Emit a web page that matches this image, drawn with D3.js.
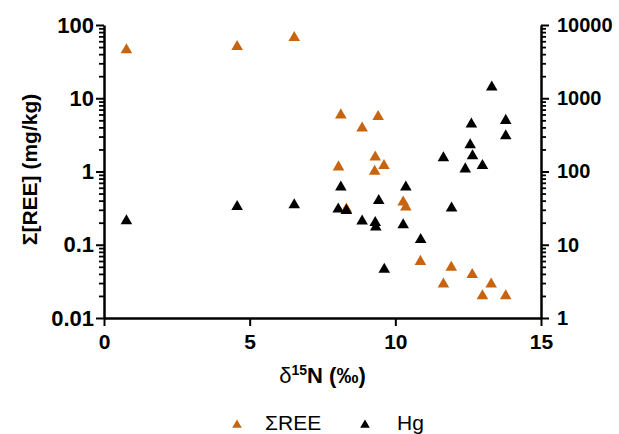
<!DOCTYPE html>
<html><head><meta charset="utf-8">
<script src="https://cdn.jsdelivr.net/npm/d3@7"></script>
<style>body{margin:0;background:#fff}svg{display:block}</style>
</head><body>
<script>
const reeX = [0.77,4.57,6.53,8.13,9.41,8.86,9.31,9.61,9.29,8.05,8.32,10.27,10.36,10.86,11.92,11.65,12.64,13.29,12.99,13.79];
const reeY = [45.6,50.6,67,5.9,5.6,3.9,1.57,1.2,1.0,1.15,0.305,0.38,0.326,0.059,0.049,0.029,0.039,0.029,0.020,0.020];
const hgX = [0.77,4.57,6.53,13.31,13.79,13.79,12.61,12.57,12.65,12.99,12.40,11.65,11.93,10.36,9.43,8.13,8.04,8.32,8.86,9.31,9.33,10.27,10.87,9.62];
const hgY = [21.2,33.2,35,1413,496,306,442,231,163,120,108,153,31.6,61,40,61,30.5,29.3,21,20,17.4,18.7,11.7,4.6];
const xTicks = [0,5,10,15];
const leftTicks = [0.01,0.1,1,10,100];
const leftLabels = ["0.01","0.1","1","10","100"];
const rightTicks = [1,10,100,1000,10000];
const rightLabels = ["1","10","100","1000","10000"];
const seriesNames = ["ΣREE","Hg"];
const colors = ["#c8640f","#000000"];

const W=619,H=434, L=104, R=541, T=25, B=318;
const svg=d3.select("body").append("svg").attr("width",W).attr("height",H);
const x=d3.scaleLinear().domain([0,15]).range([L,R]);
const yL=d3.scaleLog().domain([0.01,100]).range([B,T]);
const yR=d3.scaleLog().domain([1,10000]).range([B,T]);

function minors(dom){const out=[];for(let e=Math.log10(dom[0]);e<Math.log10(dom[1]);e++){for(let k=2;k<=9;k++)out.push(k*Math.pow(10,e));}return out;}
const font="'Liberation Sans', Arial, sans-serif";

function styleAxis(g,fs){g.select(".domain").attr("stroke-width",2.5);g.selectAll(".tick line").attr("stroke-width",2);g.selectAll("text").attr("font-family",font).attr("font-weight","bold").attr("font-size",fs).attr("fill","#000");}

svg.append("g").attr("transform",`translate(${L},0)`).call(d3.axisLeft(yL).tickValues(minors(yL.domain())).tickSize(5).tickFormat("")).call(g=>{g.select(".domain").remove();g.selectAll(".tick line").attr("stroke-width",1.8);});
svg.append("g").attr("transform",`translate(${R},0)`).call(d3.axisRight(yR).tickValues(minors(yR.domain())).tickSize(5).tickFormat("")).call(g=>{g.select(".domain").remove();g.selectAll(".tick line").attr("stroke-width",1.8);});

svg.append("g").attr("transform",`translate(${L},0)`).call(d3.axisLeft(yL).tickValues(leftTicks).tickSize(8).tickSizeOuter(0).tickPadding(2).tickFormat((d,i)=>leftLabels[i])).call(g=>styleAxis(g,22));
svg.append("g").attr("transform",`translate(${R},0)`).call(d3.axisRight(yR).tickValues(rightTicks).tickSize(8).tickSizeOuter(0).tickPadding(8).tickFormat((d,i)=>rightLabels[i])).call(g=>styleAxis(g,20));
svg.append("g").attr("transform",`translate(0,${B})`).call(d3.axisBottom(x).tickValues(xTicks).tickSize(8).tickSizeOuter(0).tickPadding(8)).call(g=>styleAxis(g,21));

svg.append("text").attr("transform",`translate(37,${(T+B)/2-2}) rotate(-90)`).attr("text-anchor","middle").attr("font-family",font).attr("font-weight","bold").attr("font-size",21).text("Σ[REE] (mg/kg)");
const xt=svg.append("text").attr("x",(L+R)/2).attr("y",383).attr("text-anchor","middle").attr("font-family",font).attr("font-weight","bold").attr("font-size",22);
xt.append("tspan").attr("font-weight","normal").text("δ");
xt.append("tspan").attr("font-size",14).attr("dy",-8).text("15");
xt.append("tspan").attr("dy",8).text("N (‰)");

const tri=d3.symbol().type(d3.symbolTriangle).size(58);
svg.append("g").selectAll("path").data(reeX.map((v,i)=>[v,reeY[i]])).join("path").attr("transform",d=>`translate(${x(d[0])},${yL(d[1])})`).attr("d",tri).attr("fill",colors[0]);
svg.append("g").selectAll("path").data(hgX.map((v,i)=>[v,hgY[i]])).join("path").attr("transform",d=>`translate(${x(d[0])},${yR(d[1])})`).attr("d",tri).attr("fill",colors[1]);

const legX=[237,365], legTX=[265,397];
const ltri=d3.symbol().type(d3.symbolTriangle).size(40);
seriesNames.forEach((n,i)=>{
  svg.append("path").attr("transform",`translate(${legX[i]},${425})`).attr("d",ltri).attr("fill",colors[i]);
  svg.append("text").attr("x",legTX[i]).attr("y",430).attr("font-family",font).attr("font-size",21).attr("fill","#000").text(n);
});
</script>
</body></html>
